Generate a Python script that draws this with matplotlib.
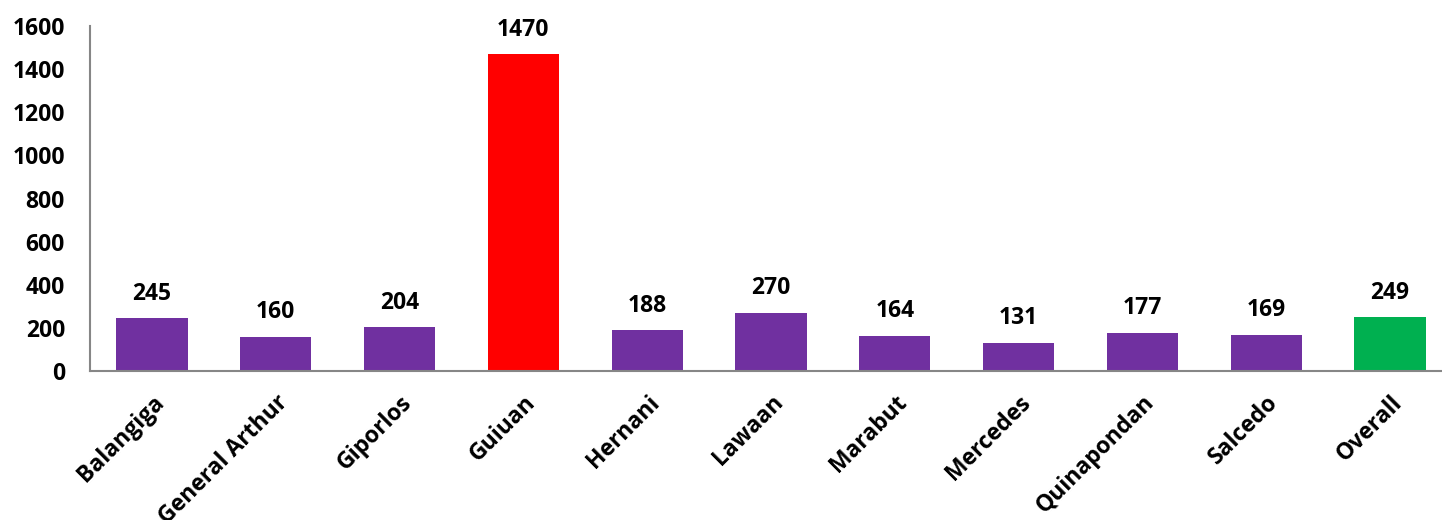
import matplotlib
matplotlib.use("Agg")
import matplotlib.pyplot as plt

categories = ["Balangiga", "General Arthur", "Giporlos", "Guiuan", "Hernani", "Lawaan",
              "Marabut", "Mercedes", "Quinapondan", "Salcedo", "Overall"]
values = [245, 160, 204, 1470, 188, 270, 164, 131, 177, 169, 249]
colors = ["#7030A0"] * 3 + ["#FF0000"] + ["#7030A0"] * 6 + ["#00B050"]
yticks = [0, 200, 400, 600, 800, 1000, 1200, 1400, 1600]

plt.rcParams['font.family'] = ['Open Sans', 'DejaVu Sans']

W, H = 1442, 520
fig = plt.figure(figsize=(W / 100, H / 100), dpi=100)
left, right, top, bottom = 90, 1452, 26, 371
ax = fig.add_axes([left / W, 1 - bottom / H, (right - left) / W, (bottom - top) / H])

FS = 16.5
x = list(range(len(categories)))
bars = ax.bar(x, values, width=0.575, color=colors)
for xi, v in zip(x, values):
    ax.annotate(str(v), (xi, v), xytext=(0, 9), textcoords="offset points",
                ha="center", va="bottom", fontsize=FS, fontweight="bold")

ax.set_xlim(-0.5, len(categories) - 0.5)
ax.set_ylim(0, 1600)
ax.set_yticks(yticks)
ax.set_yticklabels([str(t) for t in yticks], fontsize=FS, fontweight="bold")
ax.set_xticks(x)
ax.set_xticklabels(categories, rotation=45, ha="right", rotation_mode="anchor",
                   fontsize=FS, fontweight="bold")
ax.tick_params(axis="both", length=0)
ax.tick_params(axis="y", pad=18)
ax.tick_params(axis="x", pad=14)
for s in ["top", "right"]:
    ax.spines[s].set_visible(False)
for s in ["left", "bottom"]:
    ax.spines[s].set_color("#868686")
    ax.spines[s].set_linewidth(1.5)

fig.savefig("out.png", dpi=100)
